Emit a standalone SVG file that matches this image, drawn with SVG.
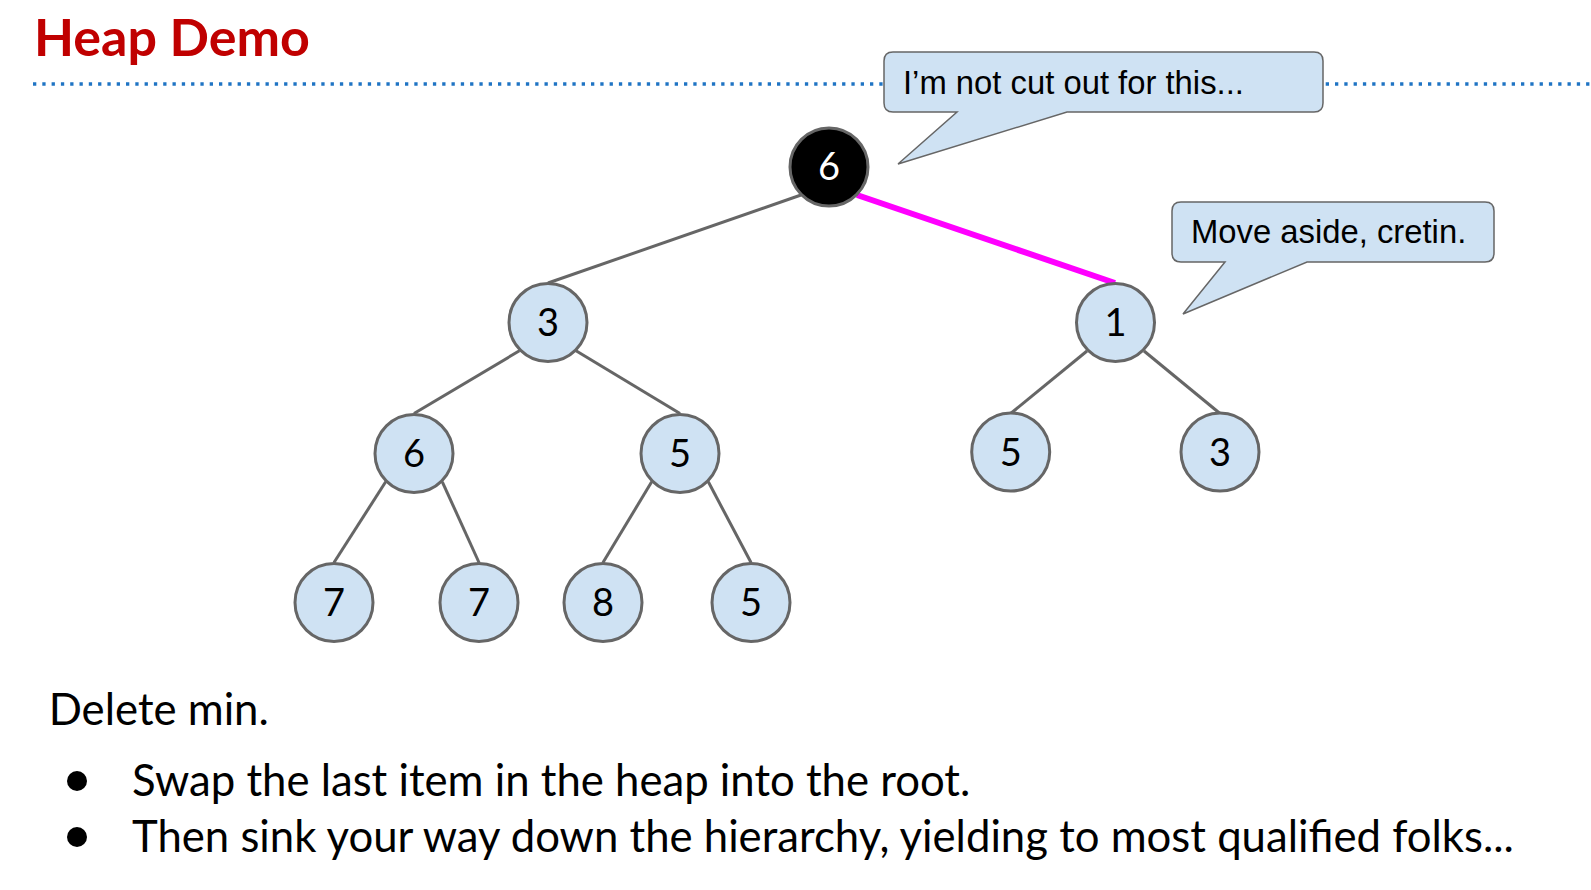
<svg xmlns="http://www.w3.org/2000/svg" width="1591" height="890" viewBox="0 0 1591 890">
<style>
.node circle{fill:#cfe2f3;stroke:#666;stroke-width:3}
.node text{font-family:Lato,"Open Sans",sans-serif;font-size:38px;fill:#000;text-anchor:middle}
#root circle{fill:#000}
#root text{fill:#fff}
.edge{stroke:#666;stroke-width:3;fill:none}
.hot{stroke:#ff00ff;stroke-width:6;fill:none}
.bubble path{fill:#cfe2f3;stroke:#666;stroke-width:1.5}
.bubble text{font-family:"Liberation Sans",Arial,sans-serif;font-size:32.8px;fill:#000}
.body{font-family:Lato,"Open Sans",sans-serif;font-size:43.7px;fill:#000}
</style>
<rect width="1591" height="890" fill="#fff"/>
<text x="34" y="56" font-family="Lato,'Open Sans',sans-serif" font-weight="bold" font-size="52" fill="#c00000">Heap Demo</text>
<line x1="33" y1="84" x2="1591" y2="84" stroke="#1f74c4" stroke-width="3.3" stroke-dasharray="3.3 6"/>
<g id="connectors">
<line class="edge" x1="801" y1="195" x2="548" y2="283"/>
<line class="hot" x1="857" y1="195" x2="1115" y2="283"/>
<line class="edge" x1="519.4" y1="350.8" x2="414" y2="413.5"/>
<line class="edge" x1="576" y1="350.8" x2="680" y2="413.5"/>
<line class="edge" x1="1087" y1="351" x2="1010.7" y2="413.5"/>
<line class="edge" x1="1144" y1="351" x2="1220" y2="413.5"/>
<line class="edge" x1="385.7" y1="481.8" x2="334" y2="562.5"/>
<line class="edge" x1="442.3" y1="481.8" x2="479" y2="562.5"/>
<line class="edge" x1="651.7" y1="481.8" x2="603" y2="562.5"/>
<line class="edge" x1="708.3" y1="481.8" x2="751" y2="562.5"/>
</g>
<g id="root" class="node"><circle cx="829" cy="167" r="39"/><text x="829" y="180">6</text></g>
<g id="n3" class="node"><circle cx="548" cy="322.5" r="39"/><text x="548" y="336">3</text></g>
<g id="n1" class="node"><circle cx="1115.5" cy="322.5" r="39"/><text x="1115.5" y="336">1</text></g>
<g id="n6" class="node"><circle cx="414" cy="453.5" r="39"/><text x="414" y="467">6</text></g>
<g id="n5a" class="node"><circle cx="680" cy="453.5" r="39"/><text x="680" y="467">5</text></g>
<g id="n5b" class="node"><circle cx="1010.7" cy="452" r="39"/><text x="1010.7" y="465.5">5</text></g>
<g id="n3b" class="node"><circle cx="1220" cy="452" r="39"/><text x="1220" y="465.5">3</text></g>
<g id="n7a" class="node"><circle cx="334" cy="602.5" r="39"/><text x="334" y="616">7</text></g>
<g id="n7b" class="node"><circle cx="479" cy="602.5" r="39"/><text x="479" y="616">7</text></g>
<g id="n8" class="node"><circle cx="603" cy="602.5" r="39"/><text x="603" y="616">8</text></g>
<g id="n5c" class="node"><circle cx="751" cy="602.5" r="39"/><text x="751" y="616">5</text></g>
<g id="bubble1" class="bubble">
<path d="M893,52 H1314 Q1323,52 1323,61 V103 Q1323,112 1314,112 H1067 L898,164 L957,112 H893 Q884,112 884,103 V61 Q884,52 893,52 Z"/>
<text x="903" y="94">I’m not cut out for this...</text>
</g>
<g id="bubble2" class="bubble">
<path d="M1181,202 H1485 Q1494,202 1494,211 V253 Q1494,262 1485,262 H1307 L1183,314 L1225,262 H1181 Q1172,262 1172,253 V211 Q1172,202 1181,202 Z"/>
<text x="1191" y="243">Move aside, cretin.</text>
</g>
<text class="body" x="48.7" y="725">Delete min.</text>
<circle cx="77" cy="781" r="10" fill="#000"/>
<circle cx="77" cy="837" r="10" fill="#000"/>
<text class="body" x="132" y="796">Swap the last item in the heap into the root.</text>
<text class="body" x="132" y="852">Then sink your way down the hierarchy, yielding to most qualified folks...</text>
</svg>
